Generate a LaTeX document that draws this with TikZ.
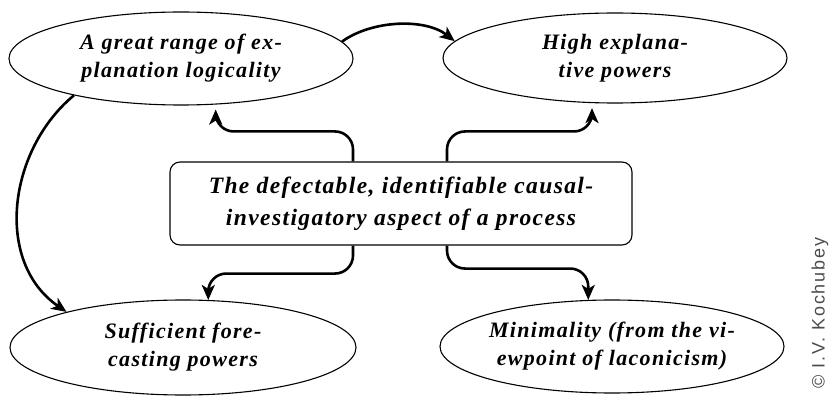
\documentclass[tikz,border=0pt]{standalone}
\usepackage{fontspec}
\usetikzlibrary{arrows.meta,shapes.geometric}
\newfontfamily\diagfont[LetterSpace=6,ItalicFont={Liberation Serif Bold Italic}]{Liberation Serif}
\newfontfamily\copyfont[LetterSpace=10]{Liberation Sans}
\begin{document}
\begin{tikzpicture}[x=1pt,y=-1pt,
  oval/.style={draw, line width=1.1pt, ellipse, inner sep=0pt, minimum width=344pt, minimum height=93pt},
  ovaltext/.style={align=center, inner sep=0pt, font=\diagfont\itshape\fontsize{22}{28}\selectfont},
  mainbox/.style={draw, line width=1.1pt, rounded corners=10pt, minimum width=462pt, minimum height=83pt, inner sep=0pt, align=center, font=\diagfont\itshape\fontsize{23.5}{32}\selectfont},
  conn/.style={line width=2.6pt, -{Stealth[length=15pt,width=13pt,inset=4pt]}}
]
\useasboundingbox (0,0) rectangle (836,401);

\node[oval] (tl) at (181,58.5) {};
\node[ovaltext] (tlt) at (tl) {A great range of ex-\\planation logicality};
\node[oval, minimum height=90pt] (tr) at (615,58) {};
\node[ovaltext] (trt) at (tr) {High explana-\\tive powers};
\node[oval, minimum width=346pt, minimum height=95pt] (bl) at (183,347.5) {};
\node[ovaltext] (blt) at (bl) {Sufficient fore-\\casting powers};
\node[oval, minimum height=93pt] (br) at (612,346.5) {};
\node[ovaltext] (brt) at (br) {Minimality (from the vi-\\ewpoint of laconicism)};

\node[mainbox] (box) at (401,203.5) {The defectable, identifiable causal-\\investigatory aspect of a process};

\node[rotate=90, inner sep=0pt, text=black!70, font=\copyfont\fontsize{18}{18}\selectfont] (copy) at (820,313) {© I.V. Kochubey};

% connectors
\draw[conn] (tl.6) .. controls (372,20) and (425,18) .. (tr.174);
\draw[conn] (tl.199) .. controls (8,150) and (-6,262) .. (bl.163);
\draw[conn, rounded corners=18pt, shorten >=5pt] ([xshift=-48pt]box.north) -- ++(0,-30) -| (tl.-53);
\draw[conn, rounded corners=18pt, shorten >=5pt] ([xshift=46pt]box.north) -- ++(0,-30) -| (tr.-117);
\draw[conn, rounded corners=18pt] ([xshift=-48pt]box.south) -- ++(0,28) -| (bl.62);
\draw[conn, rounded corners=18pt] ([xshift=46pt]box.south) -- ++(0,23) -| (br.117);
\end{tikzpicture}
\end{document}
